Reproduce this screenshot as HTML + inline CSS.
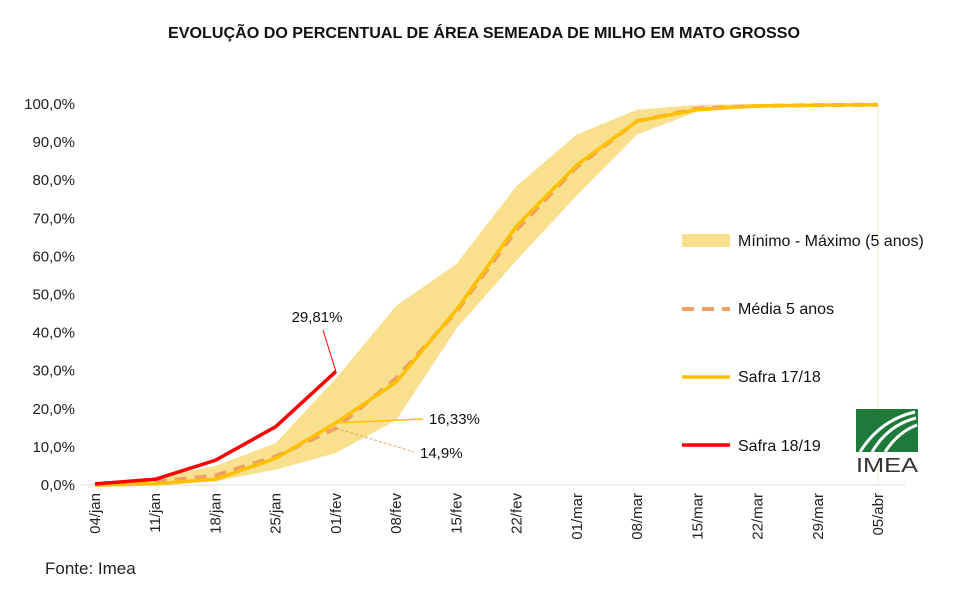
<!DOCTYPE html>
<html><head><meta charset="utf-8"><style>
body{margin:0;background:#fff;font-family:"Liberation Sans",sans-serif}
</style></head><body>
<svg id="c" width="974" height="597" xmlns="http://www.w3.org/2000/svg" font-family="Liberation Sans, sans-serif"></svg>
<script>
const categories=["04/jan","11/jan","18/jan","25/jan","01/fev","08/fev","15/fev","22/fev","01/mar","08/mar","15/mar","22/mar","29/mar","05/abr"];
const bandMax=[0.5,2,5,11,28,47,58,78.5,92,98.5,99.8,100,100,100];
const bandMin=[0,0,1,4,8.4,17,41,59,76,92,98,99.3,99.7,99.8];
const media=[0,0.8,2.5,7.5,14.9,28,45.5,67,83.5,95.5,98.8,99.5,99.7,99.8];
const safra1718=[0,0.3,1.5,7,16.33,27,46,68,84,95.5,98.5,99.5,99.7,99.8];
const safra1819=[0.3,1.5,6.5,15.3,29.81];
const yTicks=[0,10,20,30,40,50,60,70,80,90,100];
const svg=document.getElementById('c');
const NS="http://www.w3.org/2000/svg";
const X=i=>95+i*60.23, Y=v=>485-v*3.81;
function el(t,a,txt){const e=document.createElementNS(NS,t);for(const k in a)e.setAttribute(k,a[k]);if(txt!==undefined)e.textContent=txt;svg.appendChild(e);return e;}
let t=el('text',{x:484,y:38,'text-anchor':'middle','font-size':16,'font-weight':'bold',fill:'#111',textLength:632,lengthAdjust:'spacingAndGlyphs'},'EVOLUÇÃO DO PERCENTUAL DE ÁREA SEMEADA DE MILHO EM MATO GROSSO');


yTicks.forEach(v=>{const e=el('text',{x:75,y:Y(v)+5,'text-anchor':'end','font-size':15,fill:'#222'},v.toFixed(1).replace('.',',')+'%');

});
categories.forEach((c,i)=>{const e=el('text',{x:0,y:0,'text-anchor':'end','font-size':15,fill:'#222',transform:`translate(${X(i)+5},493) rotate(-90)`},c);

});
let g=el('line',{x1:X(13),y1:Y(100),x2:X(13),y2:485,stroke:'#f3ecd0','stroke-width':1});


let pts=bandMax.map((v,i)=>X(i)+','+Y(v)).concat(bandMin.map((v,i)=>X(i)+','+Y(v)).reverse());
let band=el('polygon',{points:pts.join(' '),fill:'#f9e08f'});


let ax=el('line',{x1:80,y1:485,x2:905,y2:485,stroke:'#d9d9d9','stroke-width':1});


function line(arr,attrs,name){const p=el('polyline',Object.assign({points:arr.map((v,i)=>X(i)+','+Y(v)).join(' '),fill:'none','stroke-linejoin':'round'},attrs));

}
line(media,{stroke:'#f0a060','stroke-width':4,'stroke-dasharray':'12 8'},'media-5-anos-line');
line(safra1718,{stroke:'#ffc000','stroke-width':3.5},'safra-17-18-line');
line(safra1819,{stroke:'#ff0000','stroke-width':3.5},'safra-18-19-line');
el('line',{x1:X(4),y1:Y(safra1819[4]),x2:323,y2:330,stroke:'#ff0000','stroke-width':1});
let l1=el('text',{x:317,y:322,'text-anchor':'middle','font-size':15,fill:'#111'},'29,81%');


el('line',{x1:X(4)+3,y1:Y(safra1718[4]),x2:423,y2:419,stroke:'#ffc000','stroke-width':1.5});
let l2=el('text',{x:429,y:424,'font-size':15,fill:'#111'},'16,33%');


el('line',{x1:X(4),y1:Y(media[4]),x2:414,y2:452,stroke:'#f0a060','stroke-width':1,'stroke-dasharray':'3 2'});
let l3=el('text',{x:420,y:458,'font-size':15,fill:'#111'},'14,9%');


const leg=[['Mínimo - Máximo (5 anos)',246],['Média 5 anos',314],['Safra 17/18',382],['Safra 18/19',451]];
let r=el('rect',{x:682,y:234,width:48,height:13,fill:'#f9e08f'});


el('line',{x1:682,y1:309,x2:730,y2:309,stroke:'#f0a060','stroke-width':4,'stroke-dasharray':'12 8'});
el('line',{x1:682,y1:377,x2:730,y2:377,stroke:'#ffc000','stroke-width':3.5});
el('line',{x1:682,y1:445,x2:730,y2:445,stroke:'#ff0000','stroke-width':3.5});
leg.forEach(([s,y])=>{const e=el('text',{x:738,y:y,'font-size':16,fill:'#111'},s);

});
let lg=el('rect',{x:856,y:409,width:62,height:43,fill:'#1e7a3a'});


el('path',{d:'M860 452 Q880 420 915 412',stroke:'#fff',fill:'none','stroke-width':3});
el('path',{d:'M872 452 Q888 425 916 418',stroke:'#fff',fill:'none','stroke-width':3});
el('path',{d:'M885 452 Q898 432 917 425',stroke:'#fff',fill:'none','stroke-width':3});
el('text',{x:887,y:472,'text-anchor':'middle','font-size':20,fill:'#333',textLength:62,lengthAdjust:'spacingAndGlyphs'},'IMEA');
let f=el('text',{x:45,y:574,'font-size':17,fill:'#222'},'Fonte: Imea');


</script>
</body></html>
